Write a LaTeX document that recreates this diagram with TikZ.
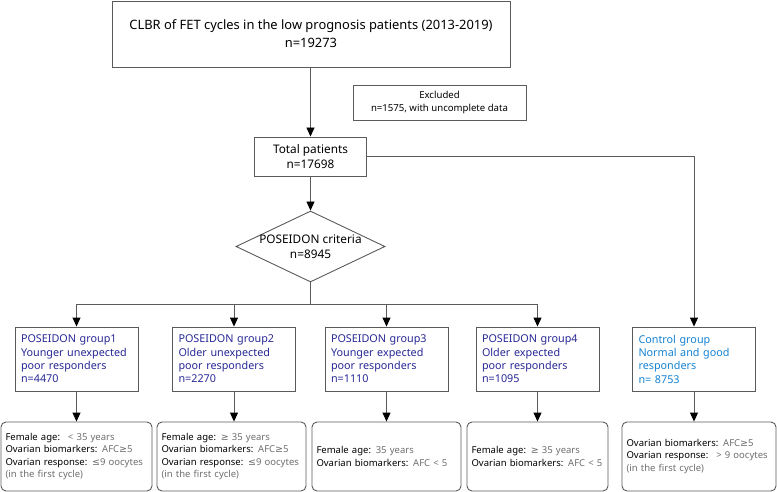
\documentclass[tikz,border=0pt]{standalone}
\usepackage{fontspec}
\setmainfont{Noto Sans}
\newfontfamily\symfont{DejaVu Sans}
\usetikzlibrary{shapes.geometric,arrows.meta}
\definecolor{linegray}{RGB}{90,90,90}
\definecolor{navytext}{RGB}{40,40,150}
\definecolor{ctrlblue}{RGB}{20,130,210}
\definecolor{valgray}{RGB}{110,110,110}
\newcommand{\valtxt}[1]{\textcolor{valgray}{#1}}
\newcommand{\gesym}{{\symfont ≥}}
\newcommand{\lesym}{{\symfont ≤}}
\hyphenpenalty=10000
\begin{document}
\begin{tikzpicture}
[x=1pt,y=-1pt,
every node/.style={font=\fontsize{9.6}{13}\selectfont},
box/.style={draw=linegray,line width=0.9pt,inner sep=0pt},
cbox/.style={box,align=center},
grp/.style={box,text width=111pt,inner xsep=6pt,minimum height=64pt,align=left,text=navytext,font=\fontsize{10.8}{13.3}\selectfont},
info/.style={box,rounded corners=5pt,text width=#1,inner xsep=4.5pt,minimum height=69pt,align=left,font=\fontsize{9.5}{12.4}\selectfont},
arr/.style={draw=linegray,line width=0.9pt,-{Triangle[width=8pt,length=9pt,color=black]}}]
\useasboundingbox (0,0) rectangle (777,492);
% top of the chart
\node[cbox,minimum width=398pt,minimum height=66pt,font=\fontsize{12.9}{18}\selectfont] (top) at (311,34)
  {CLBR of FET cycles in the low prognosis patients (2013-2019)\\n=19273};
\node[cbox,minimum width=173pt,minimum height=35pt] (excl) at (439.5,102.5)
  {Excluded\\n=1575, with uncomplete data};
\node[cbox,minimum width=112pt,minimum height=39pt,font=\fontsize{11.8}{15.5}\selectfont] (total) at (310.5,156.5)
  {Total patients\\n=17698};
\node[box,diamond,minimum width=149pt,minimum height=71pt,
  label={[align=center,font=\fontsize{11.8}{15}\selectfont]center:POSEIDON criteria\\n=8945}] (crit) at (310.5,246.5) {};
% groups
\node[grp] (grp1) at (76.5,359) {POSEIDON group1\\Younger unexpected\\poor responders\\n=4470};
\node[grp] (grp2) at (234,359) {POSEIDON group2\\Older unexpected\\poor responders\\n=2270};
\node[grp] (grp3) at (386.5,359) {POSEIDON group3\\Younger expected\\poor responders\\n=1110};
\node[grp] (grp4) at (537.5,359) {POSEIDON group4\\Older expected\\poor responders\\n=1095};
\node[grp,text=ctrlblue] (ctrl) at (694,359) {Control group\\Normal and good\\responders\\n= 8753};
% criteria
\node[info=142pt] (info1) at (76.5,456.5)
  {Female age: \valtxt{~< 35 years}\\Ovarian biomarkers: \valtxt{AFC\gesym5}\\Ovarian response: \valtxt{\lesym9 oocytes}\\\valtxt{(in the first cycle)}};
\node[info=140pt] (info2) at (231.5,456.5)
  {Female age: \valtxt{\gesym\ 35 years}\\Ovarian biomarkers: \valtxt{AFC\gesym5}\\Ovarian response: \valtxt{\lesym9 oocytes}\\\valtxt{(in the first cycle)}};
\node[info=140pt] (info3) at (386.5,456.5)
  {Female age: \valtxt{35 years}\\Ovarian biomarkers: \valtxt{AFC < 5}};
\node[info=132pt] (info4) at (537.5,456.5)
  {Female age: \valtxt{\gesym\ 35 years}\\Ovarian biomarkers: \valtxt{AFC < 5}};
\node[info=145pt] (info5) at (699,456.5)
  {Ovarian biomarkers: \valtxt{AFC\gesym5}\\Ovarian response: \valtxt{~> 9 oocytes}\\\valtxt{(in the first cycle)}};
% connectors
\draw[arr] (top.south -| total.north) -- (total.north);
\draw[arr] (total) -- (crit);
\draw[arr] (total.east) -| (ctrl.north);
\draw[linegray,line width=0.9pt] (crit.south) -- ++(0,22) coordinate (split);
\foreach \g in {grp1,grp2,grp3,grp4}
  \draw[arr] (split) -| (\g.north);
\foreach \g/\i in {grp1/info1,grp2/info2,grp3/info3,grp4/info4,ctrl/info5}
  \draw[arr] (\g.south) -- (\g.south |- \i.north);
\end{tikzpicture}
\end{document}
